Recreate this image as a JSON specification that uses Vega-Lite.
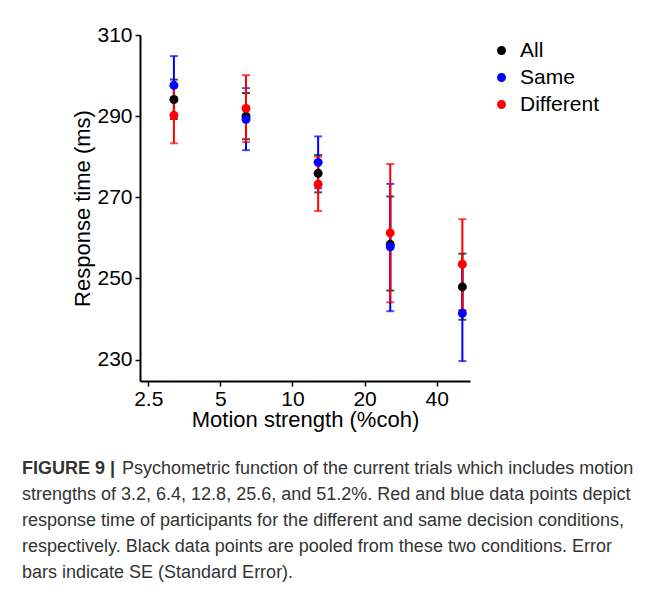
{
  "$schema": "https://vega.github.io/schema/vega-lite/v6.json",
  "width": 330,
  "height": 346,
  "autosize": {"type": "none"},
  "padding": {"left": 140, "top": 35, "right": 182, "bottom": 217},
  "background": "white",
  "config": {
    "view": {"stroke": null},
    "font": "Liberation Sans",
    "axis": {
      "grid": false,
      "domainColor": "#000000",
      "domainWidth": 2,
      "tickColor": "#000000",
      "tickWidth": 1.5,
      "tickSize": 5,
      "labelColor": "#000000",
      "labelFont": "Liberation Sans",
      "labelFontSize": 21,
      "titleFont": "Liberation Sans",
      "titleFontSize": 22,
      "titleFontWeight": "normal",
      "titleColor": "#000000"
    }
  },
  "title": {
    "text": "FIGURE 9 |",
    "subtitle": [
      "\u200b\u00a0\u00a0\u00a0\u00a0\u00a0\u00a0\u00a0\u00a0\u00a0\u00a0\u00a0\u00a0\u00a0\u00a0\u00a0\u00a0\u00a0\u00a0\u00a0\u00a0Psychometric function of the current trials which includes motion",
      "strengths of 3.2, 6.4, 12.8, 25.6, and 51.2%. Red and blue data points depict",
      "response time of participants for the different and same decision conditions,",
      "respectively. Black data points are pooled from these two conditions. Error",
      "bars indicate SE (Standard Error)."
    ],
    "orient": "bottom",
    "anchor": "start",
    "frame": "group",
    "dx": -118,
    "offset": 30,
    "font": "Liberation Sans",
    "fontSize": 18,
    "fontWeight": "bold",
    "color": "#333333",
    "subtitleFont": "Liberation Sans",
    "subtitleFontSize": 18,
    "subtitleColor": "#333333",
    "subtitleLineHeight": 26,
    "subtitlePadding": -18
  },
  "data": {
    "values": [
      {"coh": 3.2, "cond": "All", "rt": 294.1, "lo": 289.3, "hi": 299.0},
      {"coh": 3.2, "cond": "Same", "rt": 297.6, "lo": 290.4, "hi": 304.8},
      {"coh": 3.2, "cond": "Different", "rt": 290.2, "lo": 283.3, "hi": 297.4},
      {"coh": 6.4, "cond": "All", "rt": 290.0, "lo": 284.3, "hi": 295.7},
      {"coh": 6.4, "cond": "Same", "rt": 289.2, "lo": 281.6, "hi": 296.9},
      {"coh": 6.4, "cond": "Different", "rt": 291.9, "lo": 283.6, "hi": 300.1},
      {"coh": 12.8, "cond": "All", "rt": 275.9, "lo": 271.2, "hi": 280.4},
      {"coh": 12.8, "cond": "Same", "rt": 278.6, "lo": 272.2, "hi": 285.0},
      {"coh": 12.8, "cond": "Different", "rt": 273.2, "lo": 266.6, "hi": 280.0},
      {"coh": 25.6, "cond": "All", "rt": 258.4, "lo": 247.0, "hi": 270.2},
      {"coh": 25.6, "cond": "Same", "rt": 257.8, "lo": 241.9, "hi": 273.3},
      {"coh": 25.6, "cond": "Different", "rt": 261.2, "lo": 244.1, "hi": 278.2},
      {"coh": 51.2, "cond": "All", "rt": 247.9, "lo": 239.8, "hi": 256.1},
      {"coh": 51.2, "cond": "Same", "rt": 241.4, "lo": 229.6, "hi": 253.2},
      {"coh": 51.2, "cond": "Different", "rt": 253.5, "lo": 242.2, "hi": 264.6}
    ]
  },
  "encoding": {
    "x": {
      "field": "coh",
      "type": "quantitative",
      "scale": {"type": "log", "domain": [2.31, 55.1], "nice": false},
      "axis": {"values": [2.5, 5, 10, 20, 40], "format": "~g", "title": "Motion strength (%coh)", "labelPadding": 2, "titlePadding": 0}
    },
    "color": {
      "field": "cond",
      "type": "nominal",
      "scale": {"domain": ["All", "Same", "Different"], "range": ["#000000", "#0000ff", "#ff0000"]},
      "legend": {
        "title": null,
        "orient": "none",
        "legendX": 351,
        "legendY": 5,
        "symbolType": "circle",
        "symbolSize": 55,
        "symbolOpacity": 1,
        "labelFont": "Liberation Sans",
        "labelFontSize": 21,
        "labelColor": "#000000",
        "rowPadding": 5,
        "labelOffset": 8
      }
    }
  },
  "layer": [
    {
      "mark": {"type": "errorbar", "ticks": {"size": 8, "thickness": 2}, "rule": {"strokeWidth": 2}},
      "encoding": {
        "y": {
          "field": "lo",
          "type": "quantitative",
          "scale": {"domain": [224.7, 310], "nice": false, "zero": false},
          "axis": {"values": [230, 250, 270, 290, 310], "title": "Response time (ms)", "labelPadding": 3, "titlePadding": 2}
        },
        "y2": {"field": "hi"}
      }
    },
    {
      "mark": {"type": "point", "filled": true, "opacity": 1, "size": 80},
      "encoding": {
        "y": {"field": "rt", "type": "quantitative"}
      }
    }
  ]
}
